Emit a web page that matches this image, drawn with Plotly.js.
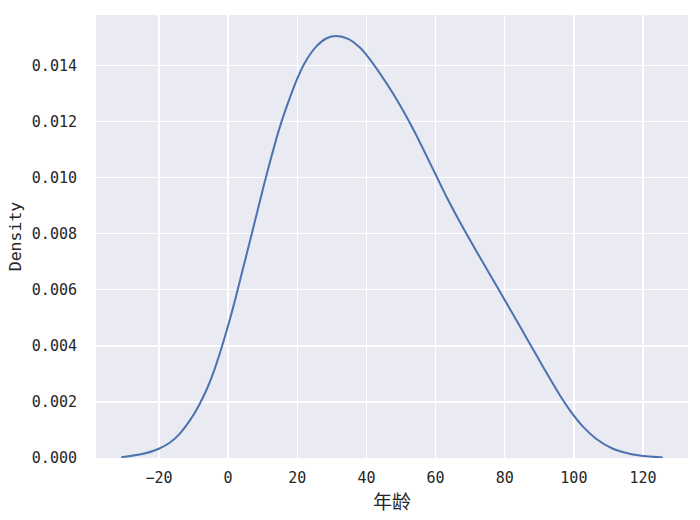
<!DOCTYPE html>
<html>
<head>
<meta charset="utf-8">
<script src="https://cdn.plot.ly/plotly-3.0.1.min.js"></script>
<style>html,body{margin:0;padding:0;background:#fff;}#chart{width:700px;height:520px;}</style>
</head>
<body>
<div id="chart"></div>
<script>
// KDE curve of 年龄 (age)
const ageX = [-30.9, -24.5, -20, -16.7, -13.9, -11.0, -8.6, -6.1, -4.2, -2.3, -0.4, 1.5, 4.4, 7.3, 10.2, 12.6, 15.0, 17.9, 19.8, 22.2, 25.6, 28.5, 31.3, 34.7, 38.1, 40.5, 43.9, 47.7, 51.2, 54.1, 59.7, 63.6, 68.4, 73.2, 78.0, 82.8, 87.3, 91.1, 95.0, 98.8, 102.7, 106.5, 111.3, 116.1, 120.9, 125.7];
const density = [0.00003, 0.00015, 0.00033, 0.00056, 0.00088, 0.00135, 0.00184, 0.00247, 0.00306, 0.00377, 0.00455, 0.00539, 0.00680, 0.00822, 0.00966, 0.01078, 0.01182, 0.01286, 0.01347, 0.01410, 0.01469, 0.01497, 0.01505, 0.01495, 0.01464, 0.01430, 0.01372, 0.01300, 0.01226, 0.01159, 0.01019, 0.00921, 0.00811, 0.00708, 0.00606, 0.00504, 0.00407, 0.00325, 0.00243, 0.00171, 0.00111, 0.00068, 0.00033, 0.00015, 0.00006, 0.00002];
const xTicks = [-20, 0, 20, 40, 60, 80, 100, 120];
const yTicks = [0, 0.002, 0.004, 0.006, 0.008, 0.010, 0.012, 0.014];
const xLabel = '年龄';
const yLabel = 'Density';

const mono = '"DejaVu Sans Mono", "Noto Sans CJK SC", monospace';
const textColor = '#262626';

const trace = {
  x: ageX, y: density, type: 'scatter', mode: 'lines',
  line: {color: '#4C72B0', width: 2, shape: 'spline', smoothing: 1},
  hoverinfo: 'skip'
};

const layout = {
  width: 700, height: 520,
  margin: {l: 96, r: 12, t: 15, b: 62},
  paper_bgcolor: '#ffffff',
  plot_bgcolor: '#EAEAF2',
  showlegend: false,
  font: {family: mono, color: textColor, size: 15},
  xaxis: {
    range: [-38.2, 133.0],
    tickvals: xTicks,
    ticktext: xTicks.map(v => v < 0 ? '\u2212' + Math.abs(v) : String(v)),
    showgrid: true, gridcolor: '#ffffff', gridwidth: 1.3,
    zeroline: false, showline: false,
    ticks: 'outside', ticklen: 6, tickcolor: 'rgba(0,0,0,0)',
    tickfont: {family: mono, size: 15, color: textColor},
    title: {text: xLabel, font: {family: '"Noto Sans CJK SC", sans-serif', size: 19, color: textColor}, standoff: 4}
  },
  yaxis: {
    range: [0, 0.0158],
    tickvals: yTicks,
    ticktext: yTicks.map(v => v.toFixed(3)),
    showgrid: true, gridcolor: '#ffffff', gridwidth: 1.3,
    zeroline: false, showline: false,
    ticks: 'outside', ticklen: 15, tickcolor: 'rgba(0,0,0,0)',
    tickfont: {family: mono, size: 15, color: textColor},
    title: {text: yLabel, font: {family: mono, size: 16.5, color: textColor}, standoff: 6}
  }
};

Plotly.newPlot('chart', [trace], layout, {displayModeBar: false, staticPlot: true});
</script>
</body>
</html>
